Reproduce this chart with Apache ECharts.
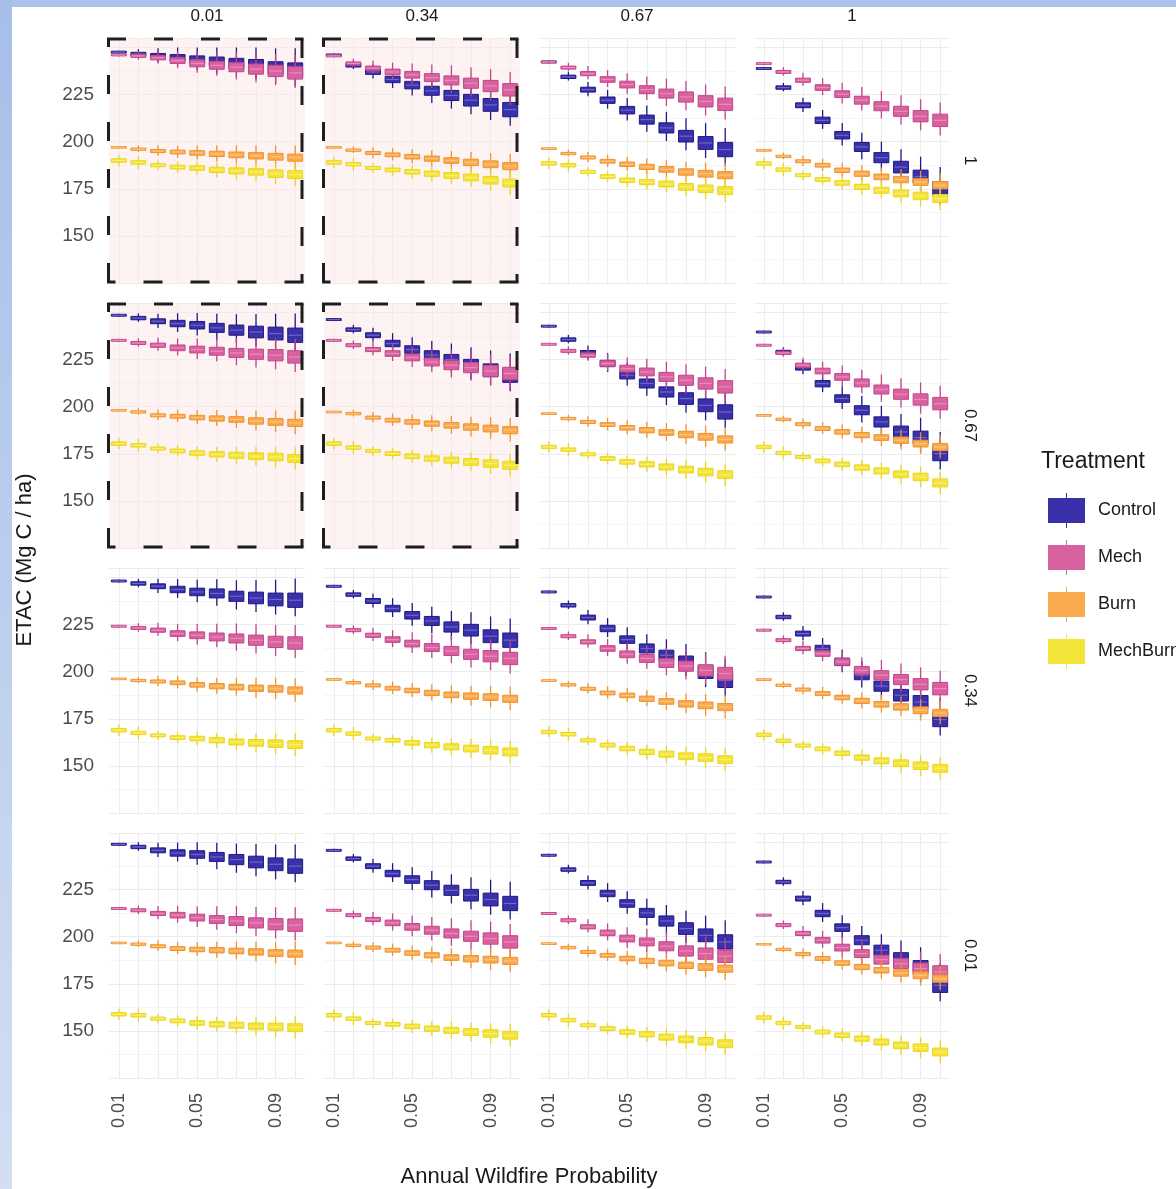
<!DOCTYPE html>
<html>
<head>
<meta charset="utf-8">
<script src="https://cdn.jsdelivr.net/npm/echarts@6/dist/echarts.min.js"></script>
<style>
  html, body { margin: 0; padding: 0; background: #ffffff; }
  #chart { width: 1176px; height: 1189px; }
</style>
</head>
<body>
<div id="chart"></div>
<script>
// Annual wildfire probability categories on each panel's x axis
const probabilities = ['0.01', '0.02', '0.03', '0.04', '0.05', '0.06', '0.07', '0.08', '0.09', '0.10'];
// Facet levels: columns (top strip) and rows (right strip)
const columnLevels = ['0.01', '0.34', '0.67', '1'];
const rowLevels = ['1', '0.67', '0.34', '0.01'];
const treatments = ['Control', 'Mech', 'Burn', 'MechBurn'];
const yTicks = [150, 175, 200, 225];

// Median ETAC per panel: one array per treatment and row, one inner list per column
const controlRow1   = [[247.5, 246.5, 245.5, 244.5, 243.5, 242.5, 241.5, 240.5, 239, 238],
                       [246, 240.5, 237, 233, 230, 227, 224.5, 222, 219.5, 217],
                       [242.3, 234.4, 227.6, 222, 216.7, 211.7, 207.3, 202.9, 199.3, 195.8],
                       [238.8, 228.7, 219.3, 211.3, 203.4, 197.2, 191.5, 186.5, 181.5, 175]];
const mechRow1      = [[246, 245.5, 244.5, 243, 241.5, 240.5, 239.5, 238.5, 237.5, 236.5],
                       [245.5, 241.5, 239, 237, 235.5, 234, 232.5, 231, 229.5, 227.5],
                       [242.3, 239.3, 236.1, 233, 230.3, 227.6, 225.5, 223.7, 221.4, 219.8],
                       [241.4, 237, 232.6, 228.7, 225.2, 222, 218.8, 216.1, 213.5, 211.3]];
const burnRow1      = [[197, 196, 195, 194.5, 194, 193.5, 193, 192.5, 192, 191.5],
                       [197, 195.5, 194, 193, 192, 191, 190, 189, 188, 187],
                       [196.3, 193.7, 191.6, 189.6, 188, 186.6, 185.3, 183.9, 183, 182.2],
                       [195.4, 192.2, 189.6, 187.5, 184.8, 183, 181.3, 179.9, 178.6, 176.9]];
const mechBurnRow1  = [[190, 189, 187.5, 186.5, 186, 185, 184.5, 184, 183, 182.5],
                       [189, 188, 186, 185, 184, 183, 182, 181, 179.5, 178],
                       [188.5, 187.5, 184, 181.5, 179.5, 178.5, 177.5, 176, 175, 174],
                       [188.4, 185.2, 182.2, 179.9, 178.1, 176, 174.2, 172.5, 171.2, 169.8]];

const controlRow067  = [[248.5, 247, 245.3, 244.1, 243.2, 241.8, 240.6, 239.6, 238.8, 237.9],
                        [246.2, 240.9, 237.9, 233.5, 230.3, 227.3, 225, 222, 219.3, 216.7],
                        [242.7, 235.6, 228.5, 222.9, 216.7, 212.3, 207.8, 204.3, 200.7, 197.2],
                        [239.6, 229, 220.7, 212.2, 204.3, 198.1, 191.9, 186.6, 183.6, 175.1]];
const mechRow067     = [[235.2, 233.8, 232.6, 231.2, 230.3, 229.4, 228.5, 227.8, 227.3, 226.4],
                        [235.2, 232.6, 230.3, 228.2, 226.1, 223.7, 222, 220.7, 218.9, 217.6],
                        [233.1, 229.6, 227.3, 222.9, 220.2, 218.4, 215.8, 214, 212.3, 210.5],
                        [232.6, 228.5, 222, 218.9, 215.8, 212.6, 209.1, 206.6, 203.8, 201.6]];
const burnRow067     = [[198.1, 197.2, 195.4, 194.9, 194.2, 193.7, 193.2, 192.4, 191.9, 191.4],
                        [197.2, 196.3, 194.2, 192.8, 191.9, 191, 190.1, 189.2, 188.4, 187.5],
                        [196.3, 193.7, 191.9, 190.5, 188.8, 187.5, 186.3, 185.2, 184, 182.6],
                        [195.4, 193.2, 190.7, 188.4, 186.6, 184.9, 183.6, 182.2, 180.4, 178.6]];
const mechBurnRow067 = [[180.4, 179.5, 177.8, 176.5, 175.4, 174.7, 174.2, 173.7, 173.3, 172.5],
                        [180.4, 178.3, 176.5, 175.1, 173.7, 172.5, 171.6, 170.7, 169.8, 168.9],
                        [178.6, 177.2, 174.7, 172.5, 170.7, 169.4, 168, 166.6, 165.3, 163.9],
                        [178.6, 175.4, 173.3, 171.2, 169.4, 167.7, 165.9, 164.1, 162.7, 159.5]];

const controlRow034  = [[248.1, 246.8, 245.3, 243.6, 242.3, 241.5, 240, 239.1, 238.3, 237.9],
                        [245.3, 240.9, 237.5, 233.5, 229.9, 226.9, 223.7, 222, 218.8, 216.7],
                        [242.3, 235.2, 228.7, 222.9, 217, 212.3, 208.7, 205.2, 199.8, 195.4],
                        [239.6, 229, 220.2, 212.3, 205.2, 198.1, 192.3, 187.5, 183.9, 174.6]];
const mechRow034     = [[224.1, 223.2, 222, 220.2, 219.3, 218.4, 217.6, 216.7, 215.8, 215.2],
                        [224.1, 222, 219.3, 217, 214.9, 212.8, 211, 209.2, 208.2, 207],
                        [222.9, 218.8, 215.8, 212.3, 209.2, 207, 204.6, 202.9, 200.7, 199],
                        [222, 216.7, 212.3, 209.6, 205.2, 200.7, 198.1, 195.8, 193.3, 191]];
const burnRow034     = [[196.2, 195.3, 194.8, 194.1, 193, 192.3, 191.8, 191.2, 190.9, 190],
                        [195.9, 194.1, 192.7, 191.2, 190, 188.7, 187.7, 187, 186.5, 185.6],
                        [195.3, 193, 190.9, 188.7, 187.4, 185.6, 184.2, 182.9, 182.1, 181.2],
                        [195.8, 192.8, 190.5, 188.4, 186.3, 184.5, 182.7, 181.3, 179.5, 178.1]];
const mechBurnRow034 = [[168.9, 167.5, 166.2, 165, 164.5, 163.6, 162.7, 162.2, 161.8, 161.3],
                        [168.9, 167.1, 164.5, 163.6, 162.2, 161, 160.1, 159.2, 158.3, 157.4],
                        [168, 166.8, 163.6, 161, 159.2, 157.4, 156.2, 155.1, 154.4, 153.3],
                        [166.5, 163.3, 160.8, 159, 156.7, 154.4, 152.7, 151.4, 150.1, 148.7]];

const controlRow001  = [[249, 247.6, 245.8, 244.4, 243.6, 242.3, 240.9, 239.6, 238.4, 237.4],
                        [245.8, 241.4, 237.4, 233.5, 230.3, 227.3, 224.6, 222, 219.7, 217.6],
                        [243.2, 235.6, 228.5, 222.9, 217.6, 212.6, 208.3, 204.3, 200.7, 197.2],
                        [239.6, 229, 220.2, 212.3, 204.8, 198.1, 192.8, 188.4, 183.9, 174.2]];
const mechRow001     = [[214.9, 214, 212.3, 211.4, 210.1, 209.1, 208.3, 207.3, 206.6, 206.1],
                        [214, 211.4, 209.1, 207.3, 205.2, 203.4, 201.7, 200.2, 199, 197.2],
                        [212.3, 208.7, 205.2, 202, 199, 197.2, 194.9, 192.4, 191, 189.6],
                        [211.4, 206.1, 201.7, 198.1, 194.2, 191, 187.8, 185.7, 183, 181.3]];
const burnRow001     = [[196.7, 196, 194.9, 193.7, 193.2, 192.8, 192.4, 191.9, 191.3, 191],
                        [196.7, 195.4, 194.2, 192.8, 191.3, 190.1, 188.9, 188.3, 187.8, 187.1],
                        [196.3, 194.2, 191.9, 190.1, 188.4, 187.1, 186, 184.8, 183.9, 183],
                        [196, 193.2, 190.7, 188.4, 186, 183.9, 182.2, 180.7, 179.5, 177.7]];
const mechBurnRow001 = [[158.8, 158.3, 156.5, 155.3, 154.2, 153.5, 153, 152.4, 152.1, 151.7],
                        [158.3, 156.5, 154.2, 153.5, 152.4, 151.2, 150.3, 149.4, 148.6, 147.7],
                        [158.3, 155.7, 153, 151.2, 149.4, 148.2, 146.7, 145.5, 144.5, 143.2],
                        [157.1, 154.2, 152.1, 149.4, 147.7, 145.9, 144.1, 142.3, 141.1, 138.8]];

// Spread around the median: half box height and whisker reach above / below (Mg C / ha)
const controlBoxHalf   = [0.5, 0.9, 1.3, 1.7, 2.0, 2.4, 2.7, 3.1, 3.4, 3.8];
const controlWhiskUp   = [0.8, 2.5, 4, 5.5, 6.5, 7.5, 8.5, 9.5, 10.5, 11.5];
const controlWhiskDown = [0.8, 2, 3.5, 4.5, 5.5, 6.5, 7, 7.5, 8, 8.5];
const mechBoxHalf      = [0.5, 0.8, 1.1, 1.5, 1.8, 2.1, 2.4, 2.7, 3.0, 3.3];
const mechWhiskUp      = [0.8, 2.5, 4, 5, 6, 7, 8, 8.5, 9, 9.5];
const mechWhiskDown    = [0.8, 2, 3, 4, 5, 5.5, 6.5, 7, 7.5, 8];
const burnBoxHalf      = [0.4, 0.6, 0.8, 1.0, 1.2, 1.4, 1.5, 1.7, 1.8, 1.9];
const burnWhiskUp      = [0.6, 2, 3, 3.5, 4, 4.5, 5, 5.5, 6, 6.5];
const burnWhiskDown    = [0.6, 1.5, 2.5, 3, 3.5, 4, 4.5, 5, 5.5, 6];
const mechBurnBoxHalf  = [0.9, 0.9, 0.8, 1.0, 1.2, 1.4, 1.6, 1.8, 2.0, 2.1];
const mechBurnWhiskUp  = [3, 3.5, 2.5, 3, 3.5, 4, 4.5, 5, 5.5, 6];
const mechBurnWhiskDown= [3, 3.5, 2.5, 3, 3.5, 4, 4.5, 5, 5.5, 6];

// Row-major lookup of the median tables (rows top to bottom)
const medians = {
  Control:  [controlRow1, controlRow067, controlRow034, controlRow001],
  Mech:     [mechRow1, mechRow067, mechRow034, mechRow001],
  Burn:     [burnRow1, burnRow067, burnRow034, burnRow001],
  MechBurn: [mechBurnRow1, mechBurnRow067, mechBurnRow034, mechBurnRow001]
};
const spreads = {
  Control:  [controlBoxHalf, controlWhiskUp, controlWhiskDown],
  Mech:     [mechBoxHalf, mechWhiskUp, mechWhiskDown],
  Burn:     [burnBoxHalf, burnWhiskUp, burnWhiskDown],
  MechBurn: [mechBurnBoxHalf, mechBurnWhiskUp, mechBurnWhiskDown]
};

const palette = {
  Control:  { fill: '#3a31aa', stroke: '#1f1886', median: '#6b66c9' },
  Mech:     { fill: '#d8619f', stroke: '#c2468a', median: '#e98cbc' },
  Burn:     { fill: '#f9a94e', stroke: '#f1922f', median: '#fcc47f' },
  MechBurn: { fill: '#f4e43a', stroke: '#ead61e', median: '#f8ee7a' }
};

// Panel geometry
const panelLefts = [109, 324, 539, 754];
const panelTops = [38, 303, 568, 833];
const panelW = 196, panelH = 245;
const highlighted = (r, c) => r < 2 && c < 2;

const font = 'Liberation Sans, Arial, Helvetica, sans-serif';

function renderBox(params, api) {
  const i = api.value(0);
  const lo = api.coord([i, api.value(1)]);
  const q1 = api.coord([i, api.value(2)]);
  const md = api.coord([i, api.value(3)]);
  const q3 = api.coord([i, api.value(4)]);
  const hi = api.coord([i, api.value(5)]);
  const band = api.size([1, 0])[0];
  const w = band * 0.76;
  const col = palette[params.seriesName];
  const top = q3[1];
  const h = Math.max(q1[1] - q3[1], 1.6);
  return {
    type: 'group',
    children: [
      { type: 'line', shape: { x1: md[0], y1: hi[1], x2: md[0], y2: lo[1] },
        style: { stroke: col.stroke, lineWidth: 1.3 } },
      { type: 'rect', shape: { x: md[0] - w / 2, y: top, width: w, height: h },
        style: { fill: col.fill, stroke: col.stroke, lineWidth: 1 } },
      { type: 'line', shape: { x1: md[0] - w / 2 + 1, y1: md[1], x2: md[0] + w / 2 - 1, y2: md[1] },
        style: { stroke: col.median, lineWidth: 1.2 } }
    ]
  };
}

const grids = [], xAxes = [], yAxes = [], series = [];
for (let r = 0; r < 4; r++) {
  for (let c = 0; c < 4; c++) {
    const k = r * 4 + c;
    const hl = highlighted(r, c);
    grids.push({
      left: panelLefts[c], top: panelTops[r], width: panelW, height: panelH,
      show: hl,
      backgroundColor: hl ? '#fdf3f3' : 'transparent',
      borderWidth: 0
    });
    xAxes.push({
      type: 'category', gridIndex: k, data: probabilities, boundaryGap: true,
      axisLine: { show: false }, axisTick: { show: false },
      axisLabel: {
        show: r === 3, interval: 3, rotate: 90, margin: 15,
        fontSize: 18, color: '#4d4d4d', fontFamily: font
      },
      splitLine: { show: true, interval: 0, alignWithLabel: true,
        lineStyle: { color: hl ? '#f5e9e9' : '#ececec', width: 1 } }
    });
    yAxes.push({
      type: 'value', gridIndex: k, min: 125, max: 255, interval: 25,
      axisLine: { show: false }, axisTick: { show: false },
      axisLabel: {
        show: c === 0, margin: 15, fontSize: 19, color: '#4d4d4d', fontFamily: font,
        formatter: v => (yTicks.indexOf(v) >= 0 ? String(v) : '')
      },
      splitLine: { show: true, lineStyle: { color: hl ? '#f5e9e9' : '#ececec', width: 1 } },
      minorTick: { show: false, splitNumber: 2 },
      minorSplitLine: { show: true, lineStyle: { color: hl ? '#f9eeee' : '#f5f5f5', width: 1 } }
    });
    treatments.forEach(t => {
      const med = medians[t][r][c];
      const [half, up, down] = spreads[t];
      const data = med.map((m, i) => [i, m - down[i], m - half[i], m, m + half[i], m + up[i]]);
      series.push({
        type: 'custom', name: t, xAxisIndex: k, yAxisIndex: k,
        renderItem: renderBox,
        encode: { x: 0, y: [1, 2, 3, 4, 5] },
        itemStyle: { color: palette[t].fill },
        data: data, silent: true
      });
    });
  }
}

const graphics = [];
// thin blue frame along the top and left edges
graphics.push({ type: 'rect', z: 0, shape: { x: 0, y: 0, width: 1176, height: 7 },
  style: { fill: '#a9c2ea' }, silent: true });
graphics.push({ type: 'rect', z: 0, shape: { x: 0, y: 0, width: 12, height: 1189 },
  style: { fill: new echarts.graphic.LinearGradient(0, 0, 0, 1, [
    { offset: 0, color: '#a6bfe9' }, { offset: 1, color: '#d3def2' }]) }, silent: true });

// dashed outline around the highlighted panels: each side is cut into dashes
// that start at its corner, so the corners read as small "L" shapes
const DASH = 19, GAP = 28;
function dashedSide(xa, ya, xb, yb) {
  const len = Math.hypot(xb - xa, yb - ya);
  const ux = (xb - xa) / len, uy = (yb - ya) / len;
  for (let s = 0; s < len; s += DASH + GAP) {
    const e = Math.min(s + DASH, len);
    graphics.push({
      type: 'line', z: 50, silent: true,
      shape: { x1: xa + ux * s, y1: ya + uy * s, x2: xa + ux * e, y2: ya + uy * e },
      style: { stroke: '#1e1e1e', lineWidth: 3, lineCap: 'butt' }
    });
  }
}
for (let r = 0; r < 4; r++) {
  for (let c = 0; c < 4; c++) {
    if (!highlighted(r, c)) continue;
    const x0 = panelLefts[c] - 0.5, y0 = panelTops[r] + 1, x1 = panelLefts[c] + panelW - 3, y1 = panelTops[r] + panelH - 1;
    dashedSide(x0 - 1.5, y0, x1 + 1.5, y0);
    dashedSide(x1 + 1.5, y1, x0 - 1.5, y1);
    dashedSide(x0, y1, x0, y0);
    dashedSide(x1, y0, x1, y1);
  }
}
// facet strips and axis titles
columnLevels.forEach((lab, c) => {
  graphics.push({ type: 'text', x: panelLefts[c] + panelW / 2, y: 16,
    style: { text: lab, fill: '#1a1a1a', font: '17px ' + font, textAlign: 'center', textVerticalAlign: 'middle' } });
});
rowLevels.forEach((lab, r) => {
  graphics.push({ type: 'text', x: 970, y: panelTops[r] + panelH / 2, rotation: -Math.PI / 2,
    style: { text: lab, fill: '#1a1a1a', font: '17px ' + font, textAlign: 'center', textVerticalAlign: 'middle' } });
});
graphics.push({ type: 'text', x: 25, y: 560, rotation: Math.PI / 2,
  style: { text: 'ETAC (Mg C / ha)', fill: '#1a1a1a', font: '22px ' + font, textAlign: 'center', textVerticalAlign: 'middle' } });
graphics.push({ type: 'text', x: 529, y: 1177,
  style: { text: 'Annual Wildfire Probability', fill: '#1a1a1a', font: '22px ' + font, textAlign: 'center', textVerticalAlign: 'middle' } });

const chart = echarts.init(document.getElementById('chart'), null, { renderer: 'canvas' });
chart.setOption({
  backgroundColor: '#ffffff',
  animation: false,
  title: {
    text: 'Treatment', left: 1036, top: 445,
    textStyle: { fontSize: 23, fontWeight: 'normal', color: '#1a1a1a', fontFamily: font }
  },
  legend: {
    data: treatments, orient: 'vertical', left: 1043, top: 488,
    itemWidth: 37, itemHeight: 35, itemGap: 12,
    icon: 'path://M0,5 H37 V30 H0 Z M18,0 H19 V5 H18 Z M18,30 H19 V35 H18 Z',
    selectedMode: false,
    textStyle: { fontSize: 18, color: '#1a1a1a', fontFamily: font, padding: [0, 0, 0, 8] }
  },
  grid: grids,
  xAxis: xAxes,
  yAxis: yAxes,
  series: series,
  graphic: graphics
});
</script>
</body>
</html>
